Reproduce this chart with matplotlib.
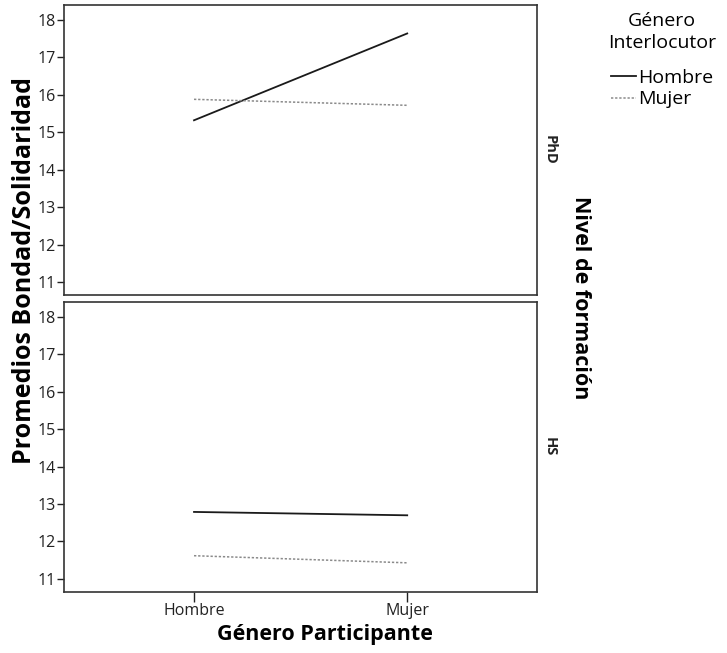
import matplotlib
matplotlib.use("Agg")
import matplotlib.pyplot as plt

plt.rcParams['font.family'] = ['Open Sans', 'DejaVu Sans']

participante = ['Hombre', 'Mujer']
paneles = ['PhD', 'HS']
# promedios por panel: interlocutor Hombre / Mujer
phd_hombre = [15.32, 17.64]
phd_mujer = [15.88, 15.72]
hs_hombre = [12.79, 12.70]
hs_mujer = [11.62, 11.43]
yticks = [11, 12, 13, 14, 15, 16, 17, 18]

fig = plt.figure(figsize=(7.27, 6.53), dpi=100)
ax_top = fig.add_axes([0.088, 0.5482, 0.651, 0.4441])
ax_bot = fig.add_axes([0.088, 0.0934, 0.651, 0.4441])

x = range(len(participante))
datos = [(ax_top, phd_hombre, phd_mujer), (ax_bot, hs_hombre, hs_mujer)]
for ax, hom, muj in datos:
    ax.plot(x, hom, color='#1a1a1a', lw=1.3, label='Hombre')
    ax.plot(x, muj, color='#8a8a8a', lw=1.1, ls=(0, (1.5, 1.2)), label='Mujer')
    ax.set_xlim(-0.61, 1.61)
    ax.set_ylim(10.65, 18.4)
    ax.set_yticks(yticks)
    ax.tick_params(axis='y', length=5, width=1, labelsize=11.5, pad=1, colors='#222222')
    ax.tick_params(axis='x', length=7, width=1, labelsize=11.5, pad=1, colors='#222222')
    for s in ax.spines.values():
        s.set_color('#333333')
        s.set_linewidth(1.2)

ax_top.set_xticks([])
ax_bot.set_xticks(list(x))
ax_bot.set_xticklabels(participante)

for ax, nombre in zip([ax_top, ax_bot], paneles):
    ax.text(1.027, 0.5, nombre, transform=ax.transAxes, rotation=-90,
            ha='center', va='center', fontsize=10.5, fontweight='bold',
            color='#222222')

fig.text(0.034, 0.585, 'Promedios Bondad/Solidaridad', rotation=90,
         ha='center', va='center', fontsize=18, fontweight='bold')
fig.text(0.447, 0.028, 'Género Participante', ha='center', va='center',
         fontsize=15.5, fontweight='bold')
fig.text(0.798, 0.544, 'Nivel de formación', rotation=-90,
         ha='center', va='center', fontsize=15.5, fontweight='bold')

h, l = ax_top.get_legend_handles_labels()
leg = fig.legend(h, l, title='Género\nInterlocutor', loc='upper center',
                 bbox_to_anchor=(0.911, 1.003), frameon=False, fontsize=14,
                 title_fontsize=14, handlelength=1.3, handletextpad=0.1,
                 labelspacing=0.2, borderpad=0.2)
leg._legend_box.align = 'center'
leg._legend_box.sep = 12
leg.get_title().set_multialignment('center')
leg.get_title().set_linespacing(1.3)

fig.savefig('out.png', dpi=100)
